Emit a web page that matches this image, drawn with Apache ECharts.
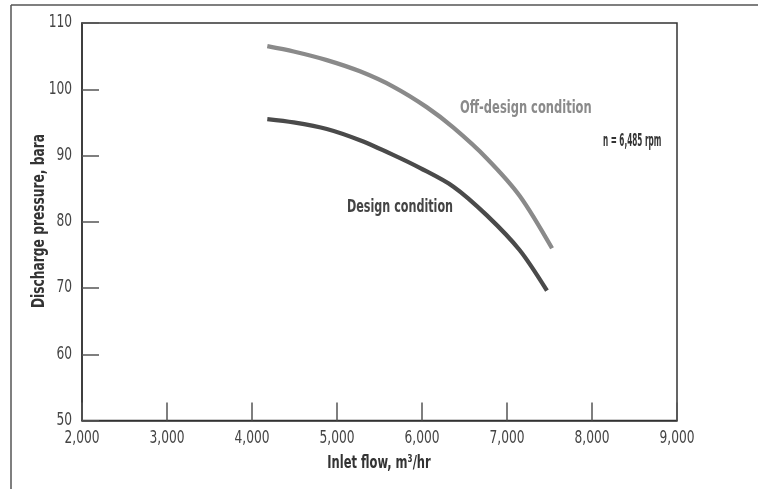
<!DOCTYPE html>
<html>
<head>
<meta charset="utf-8">
<script src="https://cdn.jsdelivr.net/npm/echarts@6/dist/echarts.min.js"></script>
<style>
html,body{margin:0;padding:0;background:#fff;}
#c{width:758px;height:489px;}
</style>
</head>
<body>
<div id="c"></div>
<script>
// Data
const offDesignFlow = [4180, 4490, 4880, 5270, 5660, 6055, 6370, 6760, 7150, 7530];
const offDesignPressure = [106.5, 105.7, 104.4, 102.7, 100.4, 97.3, 94.2, 89.6, 83.9, 76.0];
const designFlow = [4180, 4490, 4880, 5270, 5660, 5980, 6370, 6760, 7150, 7470];
const designPressure = [95.5, 95.0, 94.0, 92.3, 90.1, 88.1, 85.3, 81.0, 75.7, 69.6];
const xTicks = [2000, 3000, 4000, 5000, 6000, 7000, 8000, 9000];
const yTicks = [50, 60, 70, 80, 90, 100, 110];
const xTickLabels = ['2,000', '3,000', '4,000', '5,000', '6,000', '7,000', '8,000', '9,000'];
const yTickLabels = ['50', '60', '70', '80', '90', '100', '110'];

const FONT = '"Liberation Sans Narrow", "DejaVu Sans Condensed", "Arial Narrow", sans-serif';

const chart = echarts.init(document.getElementById('c'), null, {renderer: 'canvas'});
const pair = (xs, ys) => xs.map((x, i) => [x, ys[i]]);

chart.setOption({
  animation: false,
  backgroundColor: '#fff',
  grid: {left: 82, right: 81, top: 23, bottom: 68.5, show: true, borderColor: '#333', borderWidth: 1.5, containLabel: false},
  xAxis: {
    type: 'value', min: xTicks[0], max: xTicks[xTicks.length - 1], interval: 1000,
    axisLine: {show: true, lineStyle: {color: '#333', width: 1.5}},
    axisTick: {show: true, inside: true, length: 18, lineStyle: {color: '#555', width: 1.5}},
    splitLine: {show: false},
    axisLabel: {show: false}
  },
  yAxis: {
    type: 'value', min: yTicks[0], max: yTicks[yTicks.length - 1], interval: 10,
    axisLine: {show: true, lineStyle: {color: '#333', width: 1.5}},
    axisTick: {show: true, inside: true, length: 17, lineStyle: {color: '#555', width: 1.5}},
    splitLine: {show: false},
    axisLabel: {show: false}
  },
  series: [
    {name: 'Off-design condition', type: 'line', smooth: 0.3, symbol: 'none',
     data: pair(offDesignFlow, offDesignPressure),
     lineStyle: {color: '#8a8a8a', width: 4.3, cap: 'butt'}},
    {name: 'Design condition', type: 'line', smooth: 0.3, symbol: 'none',
     data: pair(designFlow, designPressure),
     lineStyle: {color: '#4a4a4a', width: 4.3, cap: 'butt'}}
  ]
});

// Condensed text helper (the reference uses a very narrow typeface)
function txt(text, x, y, size, weight, color, sx, align, valign) {
  return {
    type: 'text', x: x, y: y, scaleX: sx, silent: true,
    style: {text: text, x: 0, y: 0, font: weight + ' ' + size + 'px ' + FONT, fill: color,
            align: align, verticalAlign: valign}
  };
}

const g = [
  {type: 'line', shape: {x1: 11, y1: 5, x2: 758, y2: 5}, style: {stroke: '#555', lineWidth: 1.5}, silent: true},
  {type: 'line', shape: {x1: 11, y1: 5, x2: 11, y2: 489}, style: {stroke: '#555', lineWidth: 1.5}, silent: true}
];
const baseY = chart.convertToPixel({yAxisIndex: 0}, yTicks[0]);
const baseX = chart.convertToPixel({xAxisIndex: 0}, xTicks[0]);
xTicks.forEach((v, i) => {
  const px = chart.convertToPixel({xAxisIndex: 0}, v);
  g.push(txt(xTickLabels[i], px, baseY + 18, 17, 'normal', '#444', 0.8, 'center', 'middle'));
});
yTicks.forEach((v, i) => {
  const py = chart.convertToPixel({yAxisIndex: 0}, v);
  g.push(txt(yTickLabels[i], baseX - 10, py, 17, 'normal', '#444', 0.8, 'right', 'middle'));
});
// axis titles
g.push(txt('Inlet flow, m³/hr', 379, 463, 18, 'bold', '#333', 0.71, 'center', 'middle'));
g.push({
  type: 'group', x: 40, y: 221, rotation: Math.PI / 2, silent: true,
  children: [txt('Discharge pressure, bara', 0, 0, 17, 'bold', '#333', 0.8, 'center', 'middle')]
});
// annotations
g.push(txt('Off-design condition', 460, 108, 18, 'bold', '#8a8a8a', 0.71, 'left', 'middle'));
g.push(txt('n = 6,485 rpm', 603, 141, 18, 'bold', '#333', 0.45, 'left', 'middle'));
g.push(txt('Design condition', 347, 207, 18, 'bold', '#444', 0.69, 'left', 'middle'));

chart.setOption({graphic: g});
</script>
</body>
</html>
